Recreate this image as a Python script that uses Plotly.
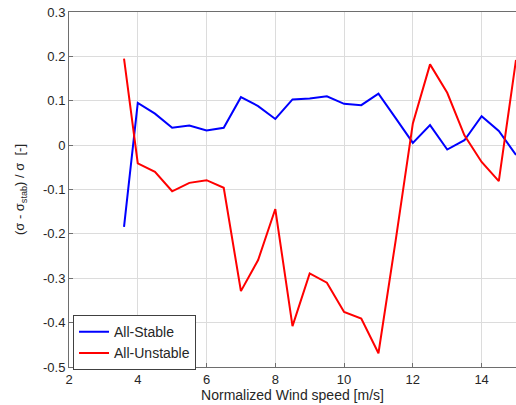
import plotly.graph_objects as go

# Data
stable_x = [3.6, 4.0, 4.5, 5.0, 5.5, 6.0, 6.5, 7.0, 7.5, 8.0, 8.5, 9.0, 9.5, 10.0, 10.5, 11.0, 11.5, 12.0, 12.5, 13.0, 13.5, 14.0, 14.5, 15.0]
stable_y = [-0.184, 0.095, 0.071, 0.039, 0.044, 0.033, 0.039, 0.108, 0.088, 0.059, 0.103, 0.105, 0.110, 0.093, 0.090, 0.116, 0.061, 0.005, 0.045, -0.010, 0.011, 0.065, 0.032, -0.022]

unstable_x = [3.6, 4.0, 4.5, 5.0, 5.5, 6.0, 6.5, 7.0, 7.5, 8.0, 8.5, 9.0, 9.5, 10.0, 10.5, 11.0, 11.5, 12.0, 12.5, 13.0, 13.5, 14.0, 14.5, 15.0]
unstable_y = [0.195, -0.041, -0.060, -0.104, -0.085, -0.079, -0.096, -0.329, -0.259, -0.144, -0.408, -0.289, -0.310, -0.376, -0.391, -0.469, -0.215, 0.049, 0.182, 0.118, 0.022, -0.038, -0.081, 0.192]

x_ticks = [2, 4, 6, 8, 10, 12, 14]
y_ticks = [0.3, 0.2, 0.1, 0, -0.1, -0.2, -0.3, -0.4, -0.5]
y_tick_labels = ["0.3", "0.2", "0.1", "0", "-0.1", "-0.2", "-0.3", "-0.4", "-0.5"]

FONT = "Liberation Sans, Arial, sans-serif"

fig = go.Figure()
fig.add_trace(go.Scatter(x=stable_x, y=stable_y, mode="lines", name="All-Stable",
                         line=dict(color="#0000ff", width=2)))
fig.add_trace(go.Scatter(x=unstable_x, y=unstable_y, mode="lines", name="All-Unstable",
                         line=dict(color="#ff0000", width=2)))

axis_common = dict(showgrid=True, gridcolor="#dcdcdc", gridwidth=1,
                   showline=True, linecolor="#6e6e6e", linewidth=1, mirror=True,
                   ticks="inside", ticklen=4, tickcolor="#6e6e6e",
                   zeroline=False, automargin=False,
                   tickfont=dict(family=FONT, size=13, color="#262626"))

fig.update_layout(
    width=516, height=405,
    margin=dict(l=69, r=0, t=12, b=38),
    paper_bgcolor="white", plot_bgcolor="white",
    font=dict(family=FONT, size=13, color="#262626"),
    xaxis=dict(range=[2, 15], tickvals=x_ticks,
               title=dict(text="Normalized Wind speed [m/s]", font=dict(family=FONT, size=14), standoff=0),
               **axis_common),
    yaxis=dict(range=[-0.5, 0.3], tickvals=y_ticks, ticktext=y_tick_labels,
               title=dict(text="(σ - σ<sub>stab</sub>) / σ  [-]", font=dict(family=FONT, size=13)),
               **axis_common),
    legend=dict(x=0.009, y=-0.009, xanchor="left", yanchor="bottom",
                bgcolor="white", bordercolor="#404040", borderwidth=1,
                font=dict(family=FONT, size=14, color="#262626"),
                tracegroupgap=0, itemwidth=30),
    showlegend=True,
)

fig.write_html("out.html", config={"displayModeBar": False},
               post_script="document.body.style.margin='0';document.body.style.overflow='hidden';")
